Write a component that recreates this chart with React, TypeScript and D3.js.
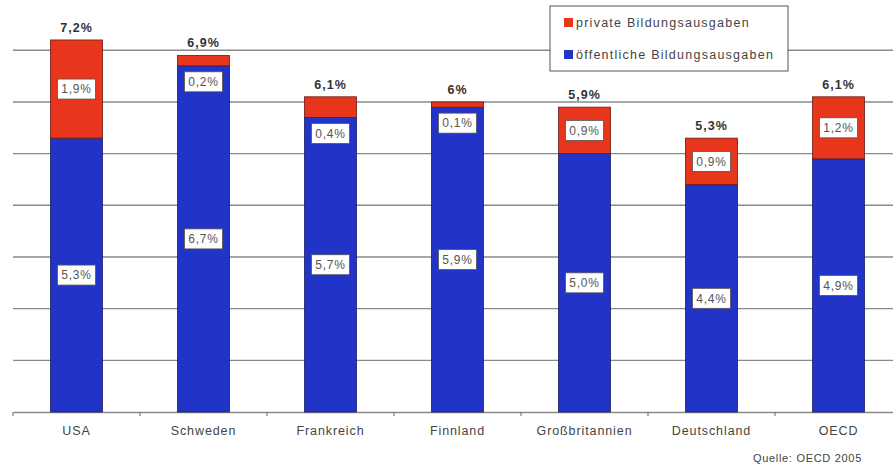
import React, { useRef, useEffect } from 'react';
import * as d3 from 'd3';

const laender = ['USA', 'Schweden', 'Frankreich', 'Finnland', 'Großbritannien', 'Deutschland', 'OECD'];
const oeffentlich = [5.3, 6.7, 5.7, 5.9, 5.0, 4.4, 4.9];
const privat = [1.9, 0.2, 0.4, 0.1, 0.9, 0.9, 1.2];
const gesamtLabels = ['7,2%', '6,9%', '6,1%', '6%', '5,9%', '5,3%', '6,1%'];
const gridWerte = [0, 1, 2, 3, 4, 5, 6, 7];

const ROT = '#e8361c';
const BLAU = '#2233c8';

const fmt = (v: number) => v.toFixed(1).replace('.', ',') + '%';

const zeichne = (svgRef: React.RefObject<SVGSVGElement | null>) => {
  const svgEl = d3.select(svgRef.current);
  svgEl.selectAll('*').remove();

  const width = 893;
  const height = 465;
  const margin = { left: 13, right: -9, top: 50, bottom: 53 };

  const svg = svgEl.append('g').style('font-family', '"Liberation Sans", Arial, sans-serif');

  const x = d3.scaleBand()
    .domain(laender)
    .range([margin.left, width - margin.right])
    .paddingInner(0)
    .paddingOuter(0);

  const y = d3.scaleLinear()
    .domain([0, 7])
    .range([height - margin.bottom, margin.top + 0.3]);

  const barW = 52;

  // Gitterlinien
  svg.append('g')
    .selectAll('line')
    .data(gridWerte.slice(1))
    .join('line')
    .attr('x1', margin.left)
    .attr('x2', width)
    .attr('y1', d => y(d))
    .attr('y2', d => y(d))
    .attr('stroke', '#8a8a8a')
    .attr('stroke-width', 1.4);

  // x-Achse
  const xAxis = d3.axisBottom(x).tickSize(0).tickPadding(14);
  const gx = svg.append('g')
    .attr('transform', `translate(0, ${y(0)})`)
    .call(xAxis);
  gx.select('.domain').attr('stroke', '#8a8a8a').attr('stroke-width', 1.6);
  gx.selectAll('text')
    .attr('fill', '#444')
    .style('font-size', '12.5px')
    .style('letter-spacing', '0.9px')
    .style('font-family', '"Liberation Sans", Arial, sans-serif');

  // Tickmarken zwischen Kategorien
  svg.append('g')
    .selectAll('line')
    .data(laender)
    .join('line')
    .attr('x1', d => x(d)!)
    .attr('x2', d => x(d)!)
    .attr('y1', y(0))
    .attr('y2', y(0) + 4)
    .attr('stroke', '#666')
    .attr('stroke-width', 1);

  const bx = (d: string) => x(d)! + x.bandwidth() / 2 - barW / 2;

  // Balken öffentlich
  svg.append('g')
    .selectAll('rect')
    .data(laender)
    .join('rect')
    .attr('x', d => bx(d))
    .attr('width', barW)
    .attr('y', (d, i) => y(oeffentlich[i]))
    .attr('height', (d, i) => y(0) - y(oeffentlich[i]))
    .attr('fill', BLAU)
    .attr('stroke', '#1a1f60')
    .attr('stroke-width', 0.8);

  // Balken privat
  svg.append('g')
    .selectAll('rect')
    .data(laender)
    .join('rect')
    .attr('x', d => bx(d))
    .attr('width', barW)
    .attr('y', (d, i) => y(oeffentlich[i] + privat[i]))
    .attr('height', (d, i) => y(oeffentlich[i]) - y(oeffentlich[i] + privat[i]))
    .attr('fill', ROT)
    .attr('stroke', '#6a1a10')
    .attr('stroke-width', 0.8);

  // Gesamtwerte oben
  svg.append('g')
    .selectAll('text')
    .data(laender)
    .join('text')
    .attr('x', d => x(d)! + x.bandwidth() / 2)
    .attr('y', (d, i) => y(oeffentlich[i] + privat[i]) - 8)
    .attr('text-anchor', 'middle')
    .attr('fill', '#333')
    .style('font-size', '12.5px')
    .style('letter-spacing', '1px')
    .style('font-weight', 'bold')
    .text((d, i) => gesamtLabels[i]);

  // Werte in den Balken
  const labels: { cx: number; cy: number; t: string }[] = [];
  laender.forEach((d, i) => {
    const cx = x(d)! + x.bandwidth() / 2;
    labels.push({ cx, cy: (y(0) + y(oeffentlich[i])) / 2, t: fmt(oeffentlich[i]) });
    const top = y(oeffentlich[i] + privat[i]);
    const bot = y(oeffentlich[i]);
    const cy = bot - top < 26 ? bot + 16 : (top + bot) / 2;
    labels.push({ cx, cy, t: fmt(privat[i]) });
  });

  const lg = svg.append('g')
    .selectAll('g')
    .data(labels)
    .join('g')
    .attr('transform', d => `translate(${d.cx}, ${d.cy})`);
  lg.append('rect')
    .attr('x', -19)
    .attr('y', -10)
    .attr('width', 38)
    .attr('height', 20)
    .attr('fill', 'white')
    .attr('stroke', '#555')
    .attr('stroke-width', 0.8);
  lg.append('text')
    .attr('text-anchor', 'middle')
    .attr('dy', '0.36em')
    .attr('fill', '#555')
    .style('font-size', '12px')
    .style('letter-spacing', '0.8px')
    .text(d => d.t);

  // Legende
  const leg = svg.append('g').attr('transform', 'translate(550, 6)');
  leg.append('rect')
    .attr('width', 238)
    .attr('height', 65)
    .attr('fill', 'white')
    .attr('stroke', '#555')
    .attr('stroke-width', 1);
  const legItems = [
    { farbe: ROT, text: 'private Bildungsausgaben' },
    { farbe: BLAU, text: 'öffentliche Bildungsausgaben' },
  ];
  const li = leg.selectAll('g.item')
    .data(legItems)
    .join('g')
    .attr('class', 'item')
    .attr('transform', (d, i) => `translate(14, ${17 + i * 32})`);
  li.append('rect')
    .attr('x', 0)
    .attr('y', -5)
    .attr('width', 9)
    .attr('height', 9)
    .attr('fill', d => d.farbe);
  li.append('text')
    .attr('x', 12)
    .attr('dy', '0.35em')
    .attr('fill', '#444')
    .style('font-size', '12.5px')
    .style('letter-spacing', '1.25px')
    .text(d => d.text);

  // Quelle
  svg.append('text')
    .attr('x', 862)
    .attr('y', 462)
    .attr('text-anchor', 'end')
    .attr('fill', '#444')
    .style('font-size', '11px')
    .style('letter-spacing', '0.7px')
    .text('Quelle: OECD 2005');
};

export default function App() {
  const svgRef = useRef<SVGSVGElement | null>(null);

  useEffect(() => {
    zeichne(svgRef);
  }, []);

  return (
    <svg
      ref={svgRef}
      width={893}
      height={465}
      style={{ position: 'absolute', left: 0, top: 0, background: 'white' }}
    />
  );
}
